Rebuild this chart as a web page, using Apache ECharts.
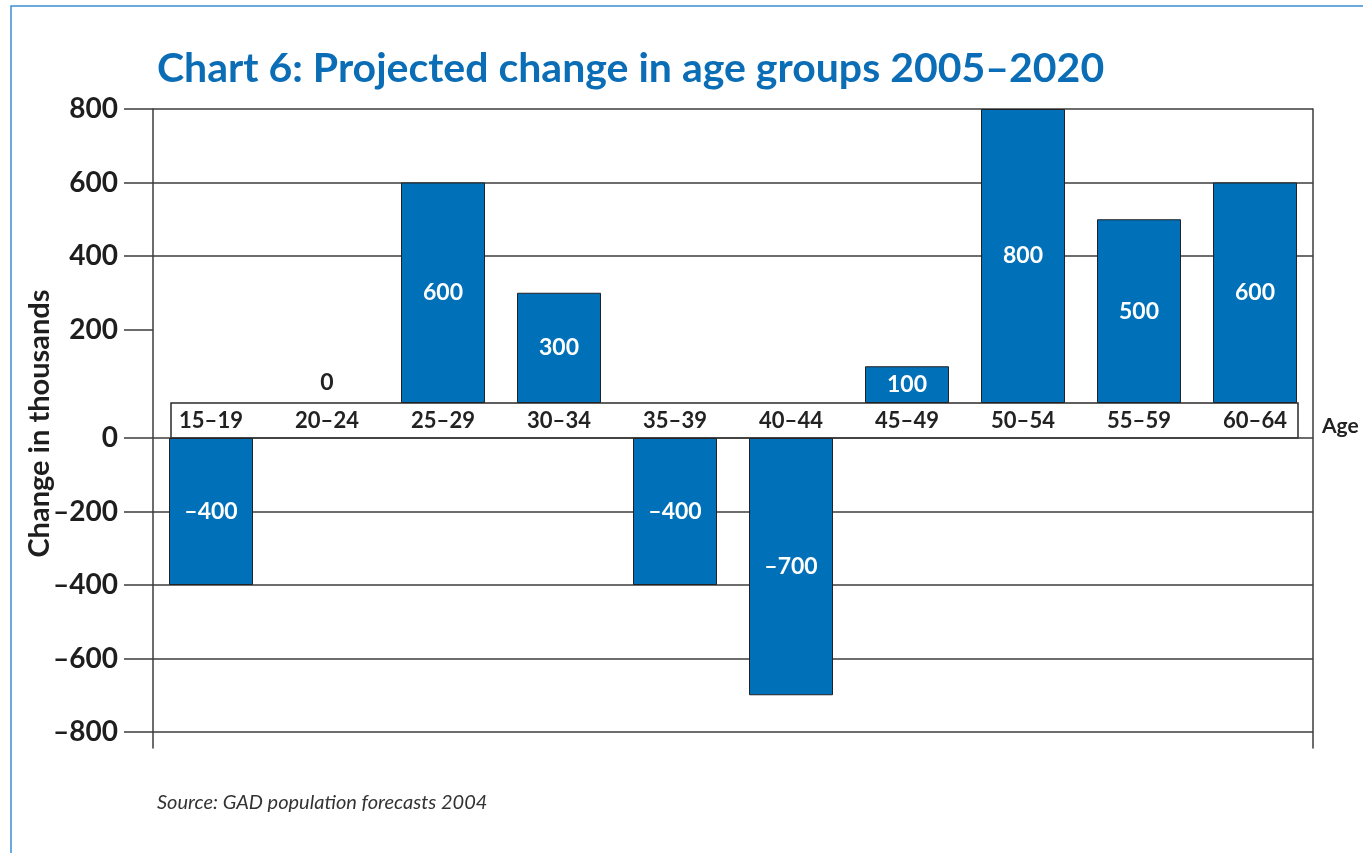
<!DOCTYPE html>
<html>
<head>
<meta charset="utf-8">
<script src="https://cdn.jsdelivr.net/npm/echarts@6/dist/echarts.min.js"></script>
<style>
html,body{margin:0;padding:0;background:#fff;}
#chart{width:1363px;height:853px;}
</style>
</head>
<body>
<div id="chart"></div>
<script>
const categories = ['15–19','20–24','25–29','30–34','35–39','40–44','45–49','50–54','55–59','60–64'];
const values = [-400, 0, 600, 300, -400, -700, 100, 800, 500, 600];
const positiveTicks = [200, 400, 600, 800];
const titleText = 'Chart 6: Projected change in age groups 2005–2020';
const sourceText = 'Source: GAD population forecasts 2004';
const yName = 'Change in thousands';
const xName = 'Age';

const FONT = 'Lato';
const BLUE = '#0070b8';
const LINE = '#3d3d3d';
const fmt = v => (v < 0 ? '–' + Math.abs(v) : String(v));

const posData = values.map(v => {
  if (v > 0) return v;
  if (v === 0) return { value: 0, itemStyle: { borderWidth: 0 }, label: { position: 'top', color: '#222', distance: 9 } };
  return '-';
});
const negData = values.map(v => (v < 0 ? v : '-'));

const labelStyle = {
  show: true, position: 'inside', color: '#fff', fontFamily: FONT,
  fontWeight: 'bold', fontSize: 23, formatter: p => fmt(p.value)
};

const chart = echarts.init(document.getElementById('chart'), null, { renderer: 'canvas' });
chart.setOption({
  backgroundColor: '#fff',
  animation: false,
  title: [
    { text: titleText, left: 152, top: 43,
      textStyle: { color: '#0a6db5', fontFamily: FONT, fontWeight: 'bold', fontSize: 41 } },
    { text: xName, left: 1317, top: 411,
      textStyle: { color: '#222', fontFamily: FONT, fontWeight: 'bold', fontSize: 21 } },
    { text: sourceText, left: 152, top: 788,
      textStyle: { color: '#333', fontFamily: FONT, fontStyle: 'italic', fontWeight: 'normal', fontSize: 20 } }
  ],
  graphic: [
    { type: 'rect', shape: { x: 11, y: 6, width: 1400, height: 900 },
      style: { fill: 'none', stroke: '#3a8fd3', lineWidth: 1.5 }, silent: true }
  ],
  grid: [
    { left: 153, right: 50, top: 109, height: 294 },
    { left: 153, right: 50, top: 438, height: 294 },
    { left: 153, right: 50, top: 109, bottom: 105 },
    { left: 171, top: 403, width: 1127, height: 35, show: true, borderColor: '#2a2a2a', borderWidth: 1.5, backgroundColor: 'transparent' }
  ],
  xAxis: [
    { type: 'category', gridIndex: 0, data: categories, position: 'bottom',
      axisLine: { show: false }, axisTick: { show: false },
      axisLabel: { margin: 7, color: '#222', fontFamily: FONT, fontWeight: 'bold', fontSize: 22, interval: 0 } },
    { type: 'category', gridIndex: 1, data: categories, show: false },
    { type: 'value', gridIndex: 2, show: false },
    { type: 'value', gridIndex: 3, show: false }
  ],
  yAxis: [
    { type: 'value', gridIndex: 0, min: 0, max: 800, interval: 200,
      axisLine: { show: false },
      axisTick: { show: true, inside: false, length: 29, customValues: positiveTicks, lineStyle: { color: LINE, width: 1.5 } },
      axisLabel: { customValues: positiveTicks, margin: 35, color: '#1e1e1e', fontFamily: FONT, fontWeight: 'bold', fontSize: 28, formatter: fmt },
      splitLine: { show: true, showMinLine: false, lineStyle: { color: LINE, width: 1.5 } } },
    { type: 'value', gridIndex: 1, min: -800, max: 0, interval: 200,
      axisLine: { show: false },
      axisTick: { show: true, inside: false, length: 29, lineStyle: { color: LINE, width: 1.5 } },
      axisLabel: { margin: 35, color: '#1e1e1e', fontFamily: FONT, fontWeight: 'bold', fontSize: 28, formatter: fmt },
      splitLine: { show: true, lineStyle: { color: LINE, width: 1.5 } } },
    { type: 'value', gridIndex: 2, min: 0, max: 1, position: 'left',
      axisLine: { show: true, lineStyle: { color: LINE, width: 1.5 } },
      axisTick: { show: false }, axisLabel: { show: false }, splitLine: { show: false },
      name: yName, nameLocation: 'middle', nameGap: 99, nameRotate: 90,
      nameTextStyle: { color: '#1e1e1e', fontFamily: FONT, fontWeight: 'bold', fontSize: 29, padding: [0, 0, 0, 10] } },
    { type: 'value', gridIndex: 2, min: 0, max: 1, position: 'right',
      axisLine: { show: true, lineStyle: { color: LINE, width: 1.5 } },
      axisTick: { show: false }, axisLabel: { show: false }, splitLine: { show: false } },
    { type: 'value', gridIndex: 3, show: false }
  ],
  series: [
    { type: 'bar', xAxisIndex: 0, yAxisIndex: 0, data: posData, barWidth: 84,
      itemStyle: { color: BLUE, borderColor: '#222', borderWidth: 1 }, label: labelStyle },
    { type: 'bar', xAxisIndex: 1, yAxisIndex: 1, data: negData, barWidth: 84,
      itemStyle: { color: BLUE, borderColor: '#222', borderWidth: 1 }, label: labelStyle }
  ]
});
</script>
</body>
</html>
